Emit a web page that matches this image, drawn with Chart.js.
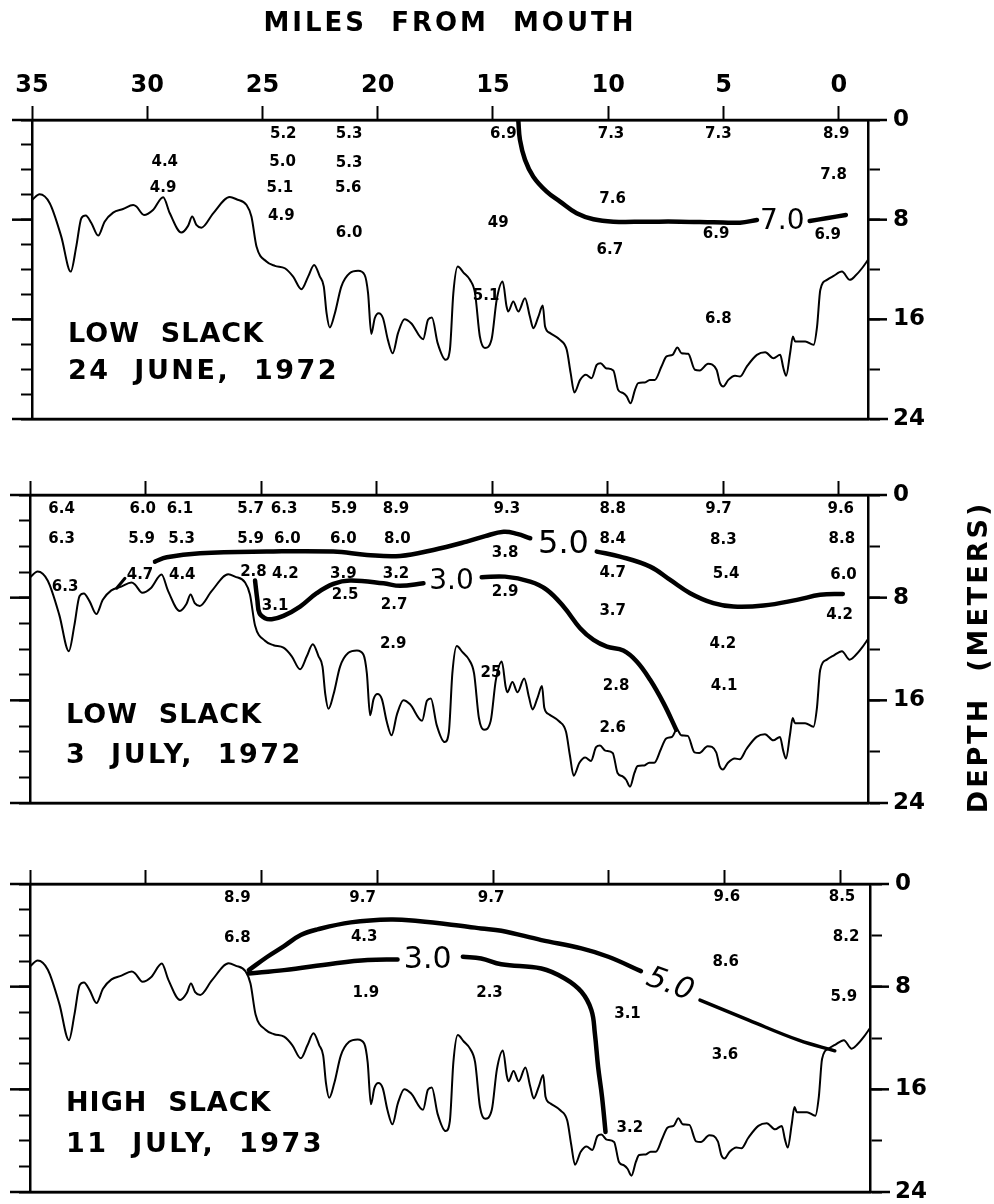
<!DOCTYPE html>
<html lang="en">
<head>
    <meta charset="UTF-8">
    <title>Miles from mouth</title>
    <script src="https://cdn.jsdelivr.net/npm/chart.js@4"></script>
    <style>
        html, body { margin: 0; padding: 0; background: #fff; width: 994px; height: 1204px; overflow: hidden; }
        canvas { position: absolute; left: 0; }
    </style>
</head>
<body>
    <canvas id="p1" width="994" height="460" style="top:0"></canvas>
    <canvas id="p2" width="994" height="400" style="top:440px"></canvas>
    <canvas id="p3" width="994" height="400" style="top:820px"></canvas>

    <script>
        // Ejes
        const MILE_MIN = -1.27;
        const MILE_MAX = 35;
        const depthLabels = [0, 8, 16, 24];

        // Perfil del fondo (igual en los tres paneles)
        const profileMiles = [35, 34.67, 34.23, 33.73, 33.32, 33.08, 32.86, 32.67, 32.42, 32.13, 31.85, 31.48, 31.05, 30.61, 30.47,
            30.14, 29.75, 29.31, 29.02, 28.52, 28.23, 28.05, 27.87, 27.65, 27.14, 26.42, 26.13, 25.69, 25.48, 25.26,
            24.83, 24.46, 24.03, 23.67, 23.31, 23.02, 22.76, 22.51, 22.34, 22.22, 22.08, 21.86, 21.58, 21.22, 20.85,
            20.57, 20.42, 20.28, 20.13, 19.96, 19.77, 19.56, 19.35, 19.12, 18.84, 18.55, 18.03, 17.82, 17.65, 17.4,
            17.05, 16.87, 16.72, 16.53, 16.28, 16.0, 15.78, 15.57, 15.35, 15.06, 14.84, 14.58, 14.41, 14.34, 14.12,
            13.9, 13.61, 13.4, 13.25, 13.03, 12.84, 12.74, 12.52, 12.09, 11.8, 11.63, 11.47, 11.22, 10.97, 10.72,
            10.5, 10.33, 10.1, 9.78, 9.57, 9.35, 9.2, 9.03, 8.84, 8.7, 8.41, 8.2, 7.98, 7.69, 7.47,
            7.21, 7.0, 6.82, 6.53, 6.24, 6.03, 5.67, 5.3, 5.15, 5.01, 4.79, 4.5, 4.28, 3.99, 3.55,
            3.19, 2.83, 2.54, 2.4, 2.28, 2.11, 1.99, 1.89, 1.45, 1.09, 0.94, 0.8, 0.51, 0.22, -0.14,
            -0.48, -0.72, -1.01, -1.27];
        const profileDepth = [6.42, 5.96, 6.68, 9.36, 12.17, 10.16, 7.89, 7.67, 8.29, 9.28, 8.16, 7.43, 7.14, 6.82, 6.95,
            7.62, 7.22, 6.2, 7.49, 9.04, 8.5, 7.75, 8.42, 8.64, 7.49, 6.18, 6.36, 6.82, 7.75, 10.16,
            11.36, 11.71, 11.9, 12.57, 13.58, 12.57, 11.63, 12.57, 13.37, 15.51, 16.66, 15.51, 13.37, 12.3, 12.11,
            12.43, 13.9, 17.17, 15.91, 15.51, 15.91, 17.65, 18.72, 17.11, 15.99, 16.31, 17.59, 16.04, 15.86, 17.91,
            19.25, 18.45, 13.9, 11.76, 12.25, 12.83, 13.9, 17.38, 18.3, 17.6, 14.44, 12.97, 14.97, 15.37, 14.57,
            15.37, 14.3, 15.78, 16.71, 15.78, 14.89, 16.58, 17.11, 17.65, 18.45, 20.32, 21.87, 20.86, 20.45, 20.72,
            19.65, 19.52, 19.92, 20.1, 21.66, 21.93, 22.19, 22.73, 21.66, 21.12, 21.07, 20.86, 20.86, 19.79, 18.98,
            18.85, 18.26, 18.72, 18.77, 20.05, 20.1, 19.57, 20.05, 21.12, 21.39, 20.86, 20.53, 20.59, 19.79, 18.85,
            18.64, 19.12, 18.85, 19.92, 20.53, 18.72, 17.38, 17.78, 17.78, 18.05, 16.58, 13.64, 12.83, 12.51, 12.17,
            12.83, 12.51, 11.9, 11.23];

        // Panel 1: isolínea 7.0
        const p1IsoAMiles = [13.9, 13.83, 13.61, 13.25, 12.67, 12.09, 11.37, 10.64, 9.78, 8.33, 6.88, 5.43, 4.28, 3.55];
        const p1IsoADepth = [0.08, 1.6, 3.2, 4.55, 5.75, 6.55, 7.49, 7.97, 8.16, 8.16, 8.16, 8.21, 8.24, 8.02];
        const p1IsoBMiles = [1.26, 0.54, -0.31];
        const p1IsoBDepth = [8.1, 7.89, 7.62];

        // Panel 2: isolíneas 5.0 y 3.0
        const p2FiveAMiles = [29.59, 29.08, 27.64, 24.75, 21.87, 20.42, 18.98, 17.54, 16.1, 15.3, 14.5, 13.92, 13.35];
        const p2FiveADepth = [5.19, 4.85, 4.54, 4.41, 4.41, 4.67, 4.75, 4.28, 3.63, 3.2, 2.87, 3.03, 3.37];
        const p2FiveBMiles = [10.47, 9.46, 8.16, 7.29, 6.43, 5.42, 4.55, 3.25, 1.81, 0.8, -0.18];
        const p2FiveBDepth = [4.41, 4.8, 5.58, 6.62, 7.65, 8.43, 8.69, 8.61, 8.17, 7.78, 7.71];
        const p2ThreeAMiles = [25.26, 25.16, 25.07, 24.83, 24.54, 24.03, 23.31, 22.59, 21.87, 21.15, 19.7, 18.98, 17.97];
        const p2ThreeADepth = [6.67, 8.17, 9.21, 9.6, 9.68, 9.42, 8.69, 7.65, 6.93, 6.67, 6.88, 7.08, 6.88];
        const p2ThreeBMiles = [15.45, 14.44, 13.35, 12.63, 11.91, 11.19, 10.61, 10.03, 9.32, 8.74, 8.16, 7.58, 7.03];
        const p2ThreeBDepth = [6.41, 6.36, 6.75, 7.39, 8.69, 10.38, 11.29, 11.81, 12.12, 12.97, 14.4, 16.22, 18.29];
        const p2HookMiles = [31.25, 30.89];
        const p2HookDepth = [7.26, 6.49];

        // Panel 3: isolíneas 5.0 y 3.0
        const p3FiveAMiles = [25.55, 24.75, 24.03, 23.31, 22.59, 21.15, 19.42, 18.26, 16.1, 15.52, 14.65, 12.92, 11.19, 10.03, 8.62];
        const p3FiveADepth = [6.71, 5.67, 4.84, 3.98, 3.54, 2.99, 2.76, 2.89, 3.33, 3.46, 3.64, 4.37, 5.02, 5.67, 6.79];
        const p3FiveBMiles = [6.07, 3.97, 1.81, 0.25];
        const p3FiveBDepth = [9.05, 10.61, 12.17, 13.0];
        const p3ThreeAMiles = [25.55, 24.03, 21.87, 20.42, 19.13];
        const p3ThreeADepth = [6.97, 6.71, 6.19, 5.93, 5.88];
        const p3ThreeBMiles = [16.31, 15.52, 14.65, 12.92, 11.91, 11.19, 10.76, 10.61, 10.47, 10.3, 10.15];
        const p3ThreeBDepth = [5.67, 5.8, 6.25, 6.58, 7.36, 8.4, 9.83, 11.65, 14.25, 16.59, 19.32];

        // Valores medidos (texto, milla, profundidad)
        const p1Values = ["5.2", "5.3", "6.9", "7.3", "7.3", "8.9", "4.4", "5.0", "5.3", "7.8", "4.9", "5.1", "5.6", "7.6",
            "4.9", "6.0", "49", "6.9", "6.9", "6.7", "5.1", "6.8"];
        const p1ValueMiles = [24.1, 21.24, 14.55, 9.88, 5.22, 0.11, 29.24, 24.13, 21.24, 0.22, 29.31, 24.25, 21.28, 9.81,
            24.18, 21.24, 14.77, 5.32, 0.48, 9.93, 15.3, 5.22];
        const p1ValueDepth = [1.12, 1.12, 1.12, 1.12, 1.12, 1.12, 3.42, 3.42, 3.48, 4.41, 5.43, 5.48, 5.48, 6.36,
            7.75, 9.09, 8.24, 9.14, 9.22, 10.43, 14.17, 16.0];

        const p2Values = ["6.4", "6.0", "6.1", "5.7", "6.3", "5.9", "8.9", "9.3", "8.8", "9.7", "9.6",
            "6.3", "5.9", "5.3", "5.9", "6.0", "6.0", "8.0", "8.4", "8.3", "8.8",
            "4.7", "4.4", "2.8", "4.2", "3.9", "3.2", "4.7", "5.4", "6.0",
            "3.8", "6.3", "3.1", "2.5", "2.7", "2.9", "3.7", "4.2", "2.9", "4.2", "25", "2.8", "4.1", "2.6"];
        const p2ValueMiles = [33.63, 30.12, 28.51, 25.45, 24.0, 21.41, 19.16, 14.36, 9.78, 5.2, -0.09,
            33.63, 30.17, 28.44, 25.45, 23.86, 21.44, 19.1, 9.78, 4.99, -0.14,
            30.24, 28.41, 25.33, 23.95, 21.44, 19.16, 9.78, 4.87, -0.21,
            14.44, 33.48, 24.39, 21.36, 19.24, 14.44, 9.78, -0.04, 19.28, 5.01, 15.05, 9.63, 4.96, 9.78];
        const p2ValueDepth = [1.12, 1.12, 1.12, 1.12, 1.12, 1.12, 1.12, 1.12, 1.12, 1.12, 1.12,
            3.43, 3.43, 3.43, 3.43, 3.43, 3.43, 3.43, 3.43, 3.5, 3.43,
            6.23, 6.23, 5.97, 6.15, 6.15, 6.15, 6.1, 6.15, 6.23,
            4.54, 7.19, 8.64, 7.78, 8.56, 7.6, 9.08, 9.34, 11.6, 11.62, 13.88, 14.92, 14.92, 18.16];

        const p3Values = ["8.9", "9.7", "9.7", "9.6", "8.5", "6.8", "4.3", "8.2", "8.6", "5.9", "1.9", "2.3", "3.1", "3.6", "3.2"];
        const p3ValueMiles = [26.05, 20.64, 15.09, 4.91, -0.06, 26.05, 20.57, -0.24, 4.96, -0.14, 20.5, 15.16, 9.2, 4.99, 9.1];
        const p3ValueDepth = [1.12, 1.12, 1.12, 1.04, 1.04, 4.24, 4.16, 4.16, 6.06, 8.79, 8.48, 8.48, 10.14, 13.34, 19.06];

        // Etiquetas de isolíneas
        const p1IsoLabels = ["7.0"];
        const p1IsoLabelMiles = [2.45];
        const p1IsoLabelDepth = [8.16];
        const p2IsoLabels = ["5.0", "3.0"];
        const p2IsoLabelMiles = [11.91, 16.76];
        const p2IsoLabelDepth = [3.89, 6.75];
        const p3IsoLabels = ["3.0", "5.0"];
        const p3IsoLabelMiles = [17.83, 7.37];
        const p3IsoLabelDepth = [5.93, 7.88];

        const panelTitles = [
            ["LOW  SLACK", "24  JUNE,  1972"],
            ["LOW  SLACK", "3  JULY,  1972"],
            ["HIGH  SLACK", "11  JULY,  1973"]
        ];

        const FONT = '"DejaVu Sans", sans-serif';

        function pts(miles, depths) {
            return miles.map((m, i) => ({ x: m, y: depths[i] }));
        }

        function profileDataset() {
            return {
                data: pts(profileMiles, profileDepth),
                borderColor: '#000',
                borderWidth: 2,
                pointRadius: 0,
                cubicInterpolationMode: 'monotone'
            };
        }

        function isoDataset(miles, depths, width) {
            return {
                data: pts(miles, depths),
                borderColor: '#000',
                borderWidth: width || 4.5,
                pointRadius: 0,
                tension: 0.4,
                borderCapStyle: 'round'
            };
        }

        function makeScales(p) {
            const border = { display: true, color: '#000', width: 2.5 };
            return {
                x: {
                    type: 'linear', axis: 'x', position: 'top', reverse: true, min: MILE_MIN, max: MILE_MAX,
                    afterFit: s => { s.height = p.topH; },
                    ticks: {
                        display: p.showMiles, stepSize: 5, includeBounds: false, autoSkip: false, maxRotation: 0,
                        color: '#000', padding: 6, font: { family: FONT, size: 24, weight: 'bold' },
                        callback: v => String(v)
                    },
                    grid: { drawOnChartArea: false, tickLength: 14, tickWidth: 2, tickColor: '#000' },
                    border: border
                },
                xb: {
                    type: 'linear', axis: 'x', position: 'bottom', reverse: true, min: MILE_MIN, max: MILE_MAX,
                    afterFit: s => { s.height = p.botH; },
                    ticks: { display: false },
                    grid: { display: false },
                    border: border
                },
                y: {
                    type: 'linear', axis: 'y', position: 'left', reverse: true, min: 0, max: 24,
                    afterFit: s => { s.width = p.left; },
                    ticks: { display: false, stepSize: 2 },
                    grid: { drawOnChartArea: false, tickLength: 11, tickWidth: 2, tickColor: '#000' },
                    border: border
                },
                yr: {
                    type: 'linear', axis: 'y', position: 'right', reverse: true, min: 0, max: 24,
                    afterFit: s => { s.width = 994 - p.right; },
                    ticks: {
                        stepSize: 2, color: '#000', padding: 13, font: { family: FONT, size: 23, weight: 'bold' },
                        callback: v => depthLabels.includes(v) ? String(v) : ''
                    },
                    grid: { drawOnChartArea: false, tickLength: 12, tickWidth: 2, tickColor: '#000' },
                    border: border
                }
            };
        }

        // Textos, marco extendido y rótulos del panel
        function notesPlugin(p) {
            return {
                id: 'notes',
                afterDraw(chart) {
                    const ctx = chart.ctx;
                    const a = chart.chartArea;
                    const xs = chart.scales.x;
                    const ys = chart.scales.y;
                    ctx.save();
                    ctx.strokeStyle = '#000';
                    ctx.fillStyle = '#000';
                    ctx.lineWidth = 2.5;
                    const line = (x1, y1, x2, y2) => { ctx.beginPath(); ctx.moveTo(x1, y1); ctx.lineTo(x2, y2); ctx.stroke(); };
                    line(a.left - 20, a.top, a.right + 19, a.top);
                    line(a.left - 20, a.bottom, a.right + 20, a.bottom);
                    [8, 16].forEach(d => {
                        const y = ys.getPixelForValue(d);
                        line(a.left - 20, y, a.left, y);
                        line(a.right, y, a.right + 19, y);
                    });

                    // valores medidos
                    ctx.textAlign = 'center';
                    ctx.textBaseline = 'middle';
                    ctx.font = 'bold 15px ' + FONT;
                    p.values.forEach((t, i) => {
                        ctx.fillText(t, xs.getPixelForValue(p.valueMiles[i]), ys.getPixelForValue(p.valueDepth[i]));
                    });

                    // etiquetas de isolíneas
                    p.isoLabels.forEach((t, i) => {
                        const st = p.isoStyle[i];
                        ctx.save();
                        ctx.translate(xs.getPixelForValue(p.isoMiles[i]), ys.getPixelForValue(p.isoDepth[i]));
                        ctx.rotate((st.rot || 0) * Math.PI / 180);
                        ctx.font = (st.italic ? 'italic ' : '') + st.size + 'px ' + FONT;
                        ctx.fillText(t, 0, 0);
                        ctx.restore();
                    });

                    // rótulo del panel
                    ctx.textAlign = 'left';
                    ctx.textBaseline = 'alphabetic';
                    ctx.font = 'bold 27px ' + FONT;
                    ctx.letterSpacing = '1px';
                    ctx.fillText(p.title[0], a.left + 36, a.top + p.titleY[0]);
                    ctx.letterSpacing = '2.5px';
                    ctx.fillText(p.title[1], a.left + 36, a.top + p.titleY[1]);

                    if (p.mainTitle) {
                        ctx.textAlign = 'center';
                        ctx.textBaseline = 'middle';
                        ctx.font = 'bold 26px ' + FONT;
                        ctx.letterSpacing = '3px';
                        ctx.fillText('MILES  FROM  MOUTH', (a.left + a.right) / 2, 24);
                    }
                    if (p.depthTitle) {
                        ctx.translate(980, 217);
                        ctx.rotate(-Math.PI / 2);
                        ctx.textAlign = 'center';
                        ctx.textBaseline = 'middle';
                        ctx.font = 'bold 27px ' + FONT;
                        ctx.letterSpacing = '3px';
                        ctx.fillText('DEPTH  (METERS)', 0, 0);
                    }
                    ctx.restore();
                }
            };
        }

        function crearPanel(id, p, datasets) {
            const ctx = document.getElementById(id).getContext('2d');
            return new Chart(ctx, {
                type: 'line',
                data: { datasets: datasets },
                options: {
                    responsive: false,
                    animation: false,
                    events: [],
                    layout: { padding: 0 },
                    plugins: { legend: { display: false }, tooltip: { enabled: false } },
                    scales: makeScales(p)
                },
                plugins: [notesPlugin(p)]
            });
        }

        window.onload = function() {
            crearPanel('p1', {
                topH: 120, botH: 41, left: 32, right: 868, showMiles: true, mainTitle: true,
                values: p1Values, valueMiles: p1ValueMiles, valueDepth: p1ValueDepth,
                isoLabels: p1IsoLabels, isoMiles: p1IsoLabelMiles, isoDepth: p1IsoLabelDepth,
                isoStyle: [{ size: 28 }],
                title: panelTitles[0], titleY: [222, 259]
            }, [
                profileDataset(),
                isoDataset(p1IsoAMiles, p1IsoADepth),
                isoDataset(p1IsoBMiles, p1IsoBDepth)
            ]);

            crearPanel('p2', {
                topH: 55, botH: 37, left: 30, right: 868, showMiles: false, depthTitle: true,
                values: p2Values, valueMiles: p2ValueMiles, valueDepth: p2ValueDepth,
                isoLabels: p2IsoLabels, isoMiles: p2IsoLabelMiles, isoDepth: p2IsoLabelDepth,
                isoStyle: [{ size: 32 }, { size: 28 }],
                title: panelTitles[1], titleY: [228, 268]
            }, [
                profileDataset(),
                isoDataset(p2FiveAMiles, p2FiveADepth),
                isoDataset(p2FiveBMiles, p2FiveBDepth),
                isoDataset(p2ThreeAMiles, p2ThreeADepth),
                isoDataset(p2ThreeBMiles, p2ThreeBDepth),
                isoDataset(p2HookMiles, p2HookDepth, 3)
            ]);

            crearPanel('p3', {
                topH: 64, botH: 28, left: 30, right: 870, showMiles: false,
                values: p3Values, valueMiles: p3ValueMiles, valueDepth: p3ValueDepth,
                isoLabels: p3IsoLabels, isoMiles: p3IsoLabelMiles, isoDepth: p3IsoLabelDepth,
                isoStyle: [{ size: 30 }, { size: 30, rot: 20, italic: true }],
                title: panelTitles[2], titleY: [227, 268]
            }, [
                profileDataset(),
                isoDataset(p3FiveAMiles, p3FiveADepth),
                isoDataset(p3FiveBMiles, p3FiveBDepth, 3.5),
                isoDataset(p3ThreeAMiles, p3ThreeADepth),
                isoDataset(p3ThreeBMiles, p3ThreeBDepth)
            ]);
        };
    </script>
</body>
</html>
